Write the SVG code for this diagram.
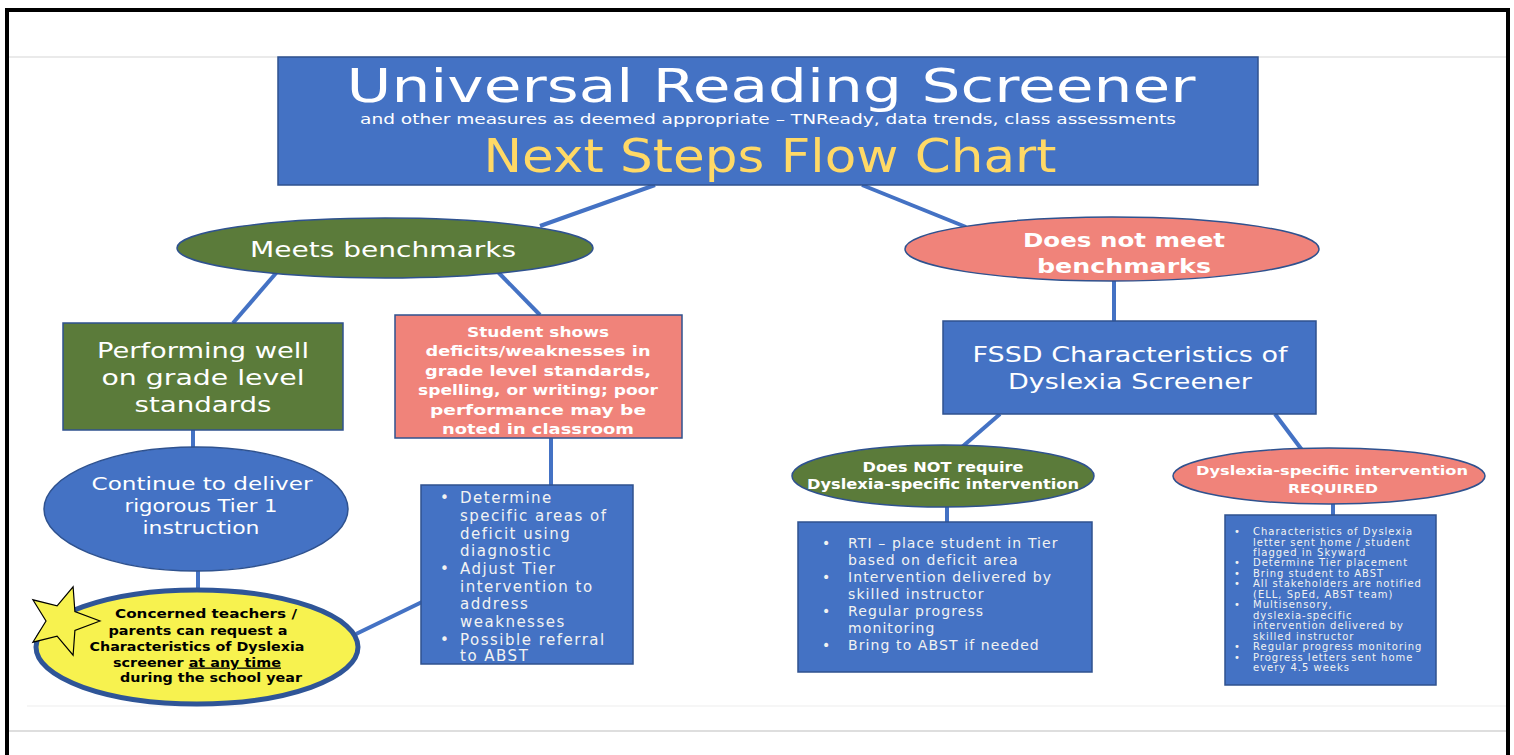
<svg xmlns="http://www.w3.org/2000/svg" width="1514" height="755" viewBox="0 0 1514 755">
<style>
.t{font-family:"DejaVu Sans","Liberation Sans",sans-serif;}
.w{fill:#ffffff;}
.wb{fill:#ffffff;font-weight:bold;}
.blue{fill:#4472C4;stroke:#2F528F;stroke-width:1.5;}
.green{fill:#5B7B3A;stroke:#2F528F;stroke-width:1.5;}
.red{fill:#F0837A;stroke:#2F528F;stroke-width:1.5;}
.conn line{stroke:#4472C4;stroke-width:4;}
.b1{font-size:15px;letter-spacing:1.5px;fill:#f2f2f2;}
.b2{font-size:14px;letter-spacing:1.1px;fill:#f2f2f2;}
.b3{font-size:10px;letter-spacing:1px;fill:#f2f2f2;}
</style>
<rect x="0" y="0" width="1514" height="755" fill="#ffffff"/>
<g id="frame">
<rect x="7" y="10" width="1501" height="800" fill="none" stroke="#000" stroke-width="4"/>
<line x1="9" y1="57" x2="1506" y2="57" stroke="#d6d6d6" stroke-width="1.2"/>
<line x1="27" y1="706" x2="1506" y2="706" stroke="#eeeeee" stroke-width="1.2"/>
<line x1="9" y1="731" x2="1506" y2="731" stroke="#bdbdbd" stroke-width="1.2"/>
</g>
<g id="connectors" class="conn">
<line x1="655" y1="185" x2="540" y2="226"/>
<line x1="862" y1="185" x2="966" y2="227"/>
<line x1="277" y1="272" x2="233" y2="323"/>
<line x1="497" y1="271" x2="540" y2="315"/>
<line x1="193" y1="430" x2="193" y2="448"/>
<line x1="198" y1="570" x2="198" y2="591"/>
<line x1="356" y1="634" x2="422" y2="602"/>
<line x1="551" y1="438" x2="551" y2="486"/>
<line x1="1114" y1="280" x2="1114" y2="321"/>
<line x1="1000" y1="414" x2="962" y2="447"/>
<line x1="1275" y1="414" x2="1302" y2="450"/>
<line x1="947" y1="506" x2="947" y2="523"/>
<line x1="1333" y1="503" x2="1333" y2="517"/>
</g>
<g id="title">
<rect class="blue" x="278" y="57" width="980" height="128"/>
<text class="t w" x="771" y="102" font-size="47" text-anchor="middle" textLength="849" lengthAdjust="spacingAndGlyphs">Universal Reading Screener</text>
<text class="t w" x="768" y="124" font-size="13.5" text-anchor="middle" textLength="816" lengthAdjust="spacingAndGlyphs">and other measures as deemed appropriate – TNReady, data trends, class assessments</text>
<text class="t" x="770" y="172" font-size="46" fill="#FFD966" text-anchor="middle" textLength="573" lengthAdjust="spacingAndGlyphs">Next Steps Flow Chart</text>
</g>
<g id="meets">
<ellipse class="green" cx="385" cy="248" rx="208" ry="30"/>
<text class="t w" x="383" y="257" font-size="21" text-anchor="middle" textLength="266" lengthAdjust="spacingAndGlyphs">Meets benchmarks</text>
</g>
<g id="doesnotmeet">
<ellipse class="red" cx="1112" cy="249" rx="207" ry="32"/>
<text class="t wb" x="1124" y="247" font-size="20" text-anchor="middle" textLength="202" lengthAdjust="spacingAndGlyphs">Does not meet</text>
<text class="t wb" x="1124" y="273" font-size="20" text-anchor="middle" textLength="174" lengthAdjust="spacingAndGlyphs">benchmarks</text>
</g>
<g id="performing">
<rect class="green" x="63" y="323" width="280" height="107"/>
<text class="t w" x="203" y="358" font-size="21" text-anchor="middle" textLength="212" lengthAdjust="spacingAndGlyphs">Performing well</text>
<text class="t w" x="203" y="385" font-size="21" text-anchor="middle" textLength="203" lengthAdjust="spacingAndGlyphs">on grade level</text>
<text class="t w" x="203" y="412" font-size="21" text-anchor="middle" textLength="137" lengthAdjust="spacingAndGlyphs">standards</text>
</g>
<g id="student">
<rect class="red" x="395" y="315" width="287" height="123"/>
<text class="t wb" x="538" y="337" font-size="14.5" text-anchor="middle" textLength="142" lengthAdjust="spacingAndGlyphs">Student shows</text>
<text class="t wb" x="538" y="356" font-size="14.5" text-anchor="middle" textLength="225" lengthAdjust="spacingAndGlyphs">deficits/weaknesses in</text>
<text class="t wb" x="538" y="376" font-size="14.5" text-anchor="middle" textLength="226" lengthAdjust="spacingAndGlyphs">grade level standards,</text>
<text class="t wb" x="538" y="395" font-size="14.5" text-anchor="middle" textLength="240" lengthAdjust="spacingAndGlyphs">spelling, or writing; poor</text>
<text class="t wb" x="538" y="415" font-size="14.5" text-anchor="middle" textLength="216" lengthAdjust="spacingAndGlyphs">performance may be</text>
<text class="t wb" x="538" y="434" font-size="14.5" text-anchor="middle" textLength="192" lengthAdjust="spacingAndGlyphs">noted in classroom</text>
</g>
<g id="continue">
<ellipse class="blue" cx="196" cy="509" rx="152" ry="62"/>
<text class="t w" x="202" y="490" font-size="18" text-anchor="middle" textLength="221" lengthAdjust="spacingAndGlyphs">Continue to deliver</text>
<text class="t w" x="201" y="512" font-size="18" text-anchor="middle" textLength="153" lengthAdjust="spacingAndGlyphs">rigorous Tier 1</text>
<text class="t w" x="201" y="534" font-size="18" text-anchor="middle" textLength="117" lengthAdjust="spacingAndGlyphs">instruction</text>
</g>
<g id="concerned">
<ellipse cx="197" cy="647" rx="161" ry="57" fill="#F7F24F" stroke="#2F5597" stroke-width="5"/>
<polygon points="100,621 74.9,630.4 73.1,655.2 57.1,636.2 32.9,642.2 46,621 32.9,599.8 57.1,605.8 73.1,586.8 74.9,611.6" fill="#F7F24F" stroke="#000" stroke-width="1.2" stroke-linejoin="miter"/>
<text class="t" x="206" y="618" font-size="13" font-weight="bold" fill="#000" text-anchor="middle" textLength="182" lengthAdjust="spacingAndGlyphs">Concerned teachers /</text>
<text class="t" x="198" y="634.5" font-size="13" font-weight="bold" fill="#000" text-anchor="middle" textLength="179" lengthAdjust="spacingAndGlyphs">parents can request a</text>
<text class="t" x="197" y="650.5" font-size="13" font-weight="bold" fill="#000" text-anchor="middle" textLength="215" lengthAdjust="spacingAndGlyphs">Characteristics of Dyslexia</text>
<text class="t" x="197" y="666.5" font-size="13" font-weight="bold" fill="#000" text-anchor="middle" textLength="168" lengthAdjust="spacingAndGlyphs">screener <tspan text-decoration="underline">at any time</tspan></text>
<text class="t" x="211" y="682" font-size="13" font-weight="bold" fill="#000" text-anchor="middle" textLength="182" lengthAdjust="spacingAndGlyphs">during the school year</text>
</g>
<g id="determine">
<rect class="blue" x="421" y="485" width="212" height="179"/>
<g class="t b1">
<text x="440" y="503">•</text><text x="460" y="503">Determine</text>
<text x="460" y="521">specific areas of</text>
<text x="460" y="538.5">deficit using</text>
<text x="460" y="556">diagnostic</text>
<text x="440" y="574">•</text><text x="460" y="574">Adjust Tier</text>
<text x="460" y="591.5">intervention to</text>
<text x="460" y="609">address</text>
<text x="460" y="627">weaknesses</text>
<text x="440" y="644.5">•</text><text x="460" y="644.5">Possible referral</text>
<text x="460" y="661">to ABST</text>
</g>
</g>
<g id="fssd">
<rect class="blue" x="943" y="321" width="373" height="93"/>
<text class="t w" x="1130" y="362" font-size="22" text-anchor="middle" textLength="315" lengthAdjust="spacingAndGlyphs">FSSD Characteristics of</text>
<text class="t w" x="1130" y="389" font-size="22" text-anchor="middle" textLength="244" lengthAdjust="spacingAndGlyphs">Dyslexia Screener</text>
</g>
<g id="notrequired">
<ellipse class="green" cx="943" cy="476" rx="151" ry="31"/>
<text class="t wb" x="943" y="472" font-size="14" text-anchor="middle" textLength="161" lengthAdjust="spacingAndGlyphs">Does NOT require</text>
<text class="t wb" x="943" y="489" font-size="14" text-anchor="middle" textLength="272" lengthAdjust="spacingAndGlyphs">Dyslexia-specific intervention</text>
</g>
<g id="rti">
<rect class="blue" x="798" y="522" width="294" height="150"/>
<g class="t b2">
<text x="822" y="548">•</text><text x="848" y="548">RTI – place student in Tier</text>
<text x="848" y="565">based on deficit area</text>
<text x="822" y="582">•</text><text x="848" y="582">Intervention delivered by</text>
<text x="848" y="599">skilled instructor</text>
<text x="822" y="616">•</text><text x="848" y="616">Regular progress</text>
<text x="848" y="633">monitoring</text>
<text x="822" y="650">•</text><text x="848" y="650">Bring to ABST if needed</text>
</g>
</g>
<g id="required">
<ellipse class="red" cx="1329" cy="476" rx="156" ry="28"/>
<text class="t wb" x="1332" y="475" font-size="13" text-anchor="middle" textLength="272" lengthAdjust="spacingAndGlyphs">Dyslexia-specific intervention</text>
<text class="t wb" x="1333" y="493" font-size="13" text-anchor="middle" textLength="90" lengthAdjust="spacingAndGlyphs">REQUIRED</text>
</g>
<g id="characteristics">
<rect class="blue" x="1225" y="515" width="211" height="170"/>
<g class="t b3">
<text x="1234" y="535">•</text><text x="1253" y="535">Characteristics of Dyslexia</text>
<text x="1253" y="545.5">letter sent home / student</text>
<text x="1253" y="556">flagged in Skyward</text>
<text x="1234" y="566.4">•</text><text x="1253" y="566.4">Determine Tier placement</text>
<text x="1234" y="576.8">•</text><text x="1253" y="576.8">Bring student to ABST</text>
<text x="1234" y="587.3">•</text><text x="1253" y="587.3">All stakeholders are notified</text>
<text x="1253" y="597.8">(ELL, SpEd, ABST team)</text>
<text x="1234" y="608.2">•</text><text x="1253" y="608.2">Multisensory,</text>
<text x="1253" y="618.7">dyslexia-specific</text>
<text x="1253" y="629.1">intervention delivered by</text>
<text x="1253" y="639.6">skilled instructor</text>
<text x="1234" y="650">•</text><text x="1253" y="650">Regular progress monitoring</text>
<text x="1234" y="660.5">•</text><text x="1253" y="660.5">Progress letters sent home</text>
<text x="1253" y="671">every 4.5 weeks</text>
</g>
</g>
</svg>
